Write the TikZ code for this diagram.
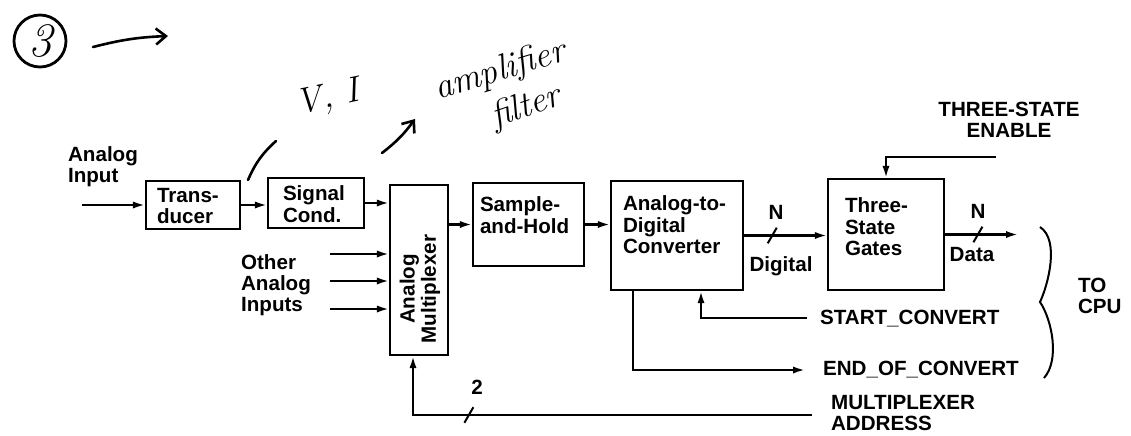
\documentclass[tikz,border=0pt]{standalone}
\usepackage{fontspec}
\setsansfont{Liberation Sans}
\usetikzlibrary{arrows.meta}
\begin{document}
\begin{tikzpicture}[x=0.5pt,y=-0.5pt,line width=1.1pt,
  >={Latex[length=6pt,width=3.6pt]},
  block/.style={draw,rectangle,inner sep=0pt},
  txt/.style={font=\sffamily\bfseries\fontsize{10.3}{10.6}\selectfont,inner sep=0pt,align=left},
  hand/.style={font=\itshape\fontsize{18}{18}\selectfont\addfontfeature{LetterSpace=6},inner sep=0pt},
  busslash/.style={draw,rectangle,rotate=60,minimum width=9pt,minimum height=0pt,inner sep=0pt,line width=1pt},
  barb/.style={-{Straight Barb[length=5pt,width=8pt]},line width=1.3pt,line cap=round}]
\useasboundingbox (0,0) rectangle (1131,435);

% blocks
\node[block,minimum width=47pt,minimum height=24pt] (trans) at (193,205) {};
\node[block,minimum width=48pt,minimum height=25pt] (sig) at (316,203) {};
\node[block,minimum width=29pt,minimum height=85pt] (mux) at (419,270) {};
\node[block,minimum width=55.5pt,minimum height=41.5pt] (sh) at (528.5,224.5) {};
\node[block,minimum width=66pt,minimum height=54.5pt] (adc) at (677,235.5) {};
\node[block,minimum width=58pt,minimum height=55.5pt] (tsg) at (886,234.5) {};

\node[txt,anchor=north west] (transT) at ([shift={(11,7)}]trans.north west) {Trans-\\ducer};
\node[txt,anchor=north west] (sigT) at ([shift={(15,8)}]sig.north west) {Signal\\Cond.};
\node[txt,rotate=90,align=center] (muxT) at (420,289) {Analog\\Multiplexer};
\node[txt,anchor=north west] (shT) at ([shift={(7,14)}]sh.north west) {Sample-\\and-Hold};
\node[txt,anchor=north west] (adcT) at ([shift={(12,15)}]adc.north west) {Analog-to-\\Digital\\Converter};
\node[txt,anchor=north west] (tsgT) at ([shift={(17,19)}]tsg.north west) {Three-\\State\\Gates};

% signal path
\coordinate (ain) at (82,205);
\draw[->] (ain) -- (trans.west);
\draw[->] (trans.east) -- (trans.east -| sig.west);
\draw[->] (sig.east) -- (sig.east -| mux.west);
\foreach \y [count=\i] in {254,281,309} {
  \coordinate (oth\i) at (330,\y);
  \draw[->] (oth\i) -- (oth\i -| mux.west);
}
\draw[->] (mux.east |- sh.west) -- (sh.west);
\draw[->] (sh.east) -- (sh.east -| adc.west);
\draw[->] (adc.east) -- node[busslash,pos=.34] (sl1) {} (adc.east -| tsg.west);
\coordinate (dout) at (1018,234.5);
\draw[->] (tsg.east) -- node[busslash,pos=.45] (sl2) {} (dout);

% control lines
\coordinate (ten) at (996,157);
\draw[->] (ten) -| (tsg.north);
\coordinate (stc) at (807,318);
\draw[->] (stc) -| ([xshift=12pt]adc.south);
\coordinate (eoc) at (805,370);
\draw[->] ([xshift=-22pt]adc.south) |- (eoc);
\coordinate (mad) at (812,415);
\draw[->] (mad) -| node[busslash,pos=.43] (sl3) {} ([xshift=-3pt]mux.south);

% labels
\node[txt,anchor=west] (ainT) at (67,167) {Analog\\Input};
\node[txt,anchor=west] (othT) at (240,285) {Other\\Analog\\Inputs};
\node[txt] (nA) at (776,212) {N};
\node[txt] (digT) at (781,266) {Digital};
\node[txt] (nB) at (978,211) {N};
\node[txt] (datT) at (972,255) {Data};
\node[txt,align=center] (tenT) at (1009,120) {THREE-STATE\\ENABLE};
\node[txt,anchor=west] (stcT) at (819,319) {START\_CONVERT};
\node[txt,anchor=west] (eocT) at (822,370) {END\_OF\_CONVERT};
\node[txt,anchor=west] (madT) at (830,413) {MULTIPLEXER\\ADDRESS};
\node[txt] (two) at (477,387) {2};
\node[txt,anchor=west] (cpuT) at (1077,296) {TO\\CPU};
\draw[line width=1pt] (1040,227) .. controls (1060,240) and (1048,285) .. (1040,302)
  .. controls (1052,320) and (1060,360) .. (1044,378);

% handwritten notes
\node[draw,circle,minimum size=26pt,inner sep=0pt,line width=1.4pt,font=\itshape\fontsize{24}{24}\selectfont] (num) at (40,41) {3};
\coordinate (a1) at (93,47);
\coordinate (a2) at (168,36);
\draw[barb] (a1) to[bend left=6] (a2);
\coordinate (vi1) at (248,180);
\coordinate (vi2) at (276,141);
\draw[line width=1.3pt,line cap=round] (vi1) to[bend left=12] (vi2);
\node[hand,rotate=12] (vi) at (328,99) {V,~I};
\coordinate (am1) at (382,153);
\coordinate (am2) at (415,119);
\draw[barb] (am1) to[bend right=8] (am2);
\node[hand,rotate=17,anchor=base west] (ampT) at (437,100) {amplifier};
\node[hand,rotate=19,anchor=base west] (filT) at (494,128) {filter};
\end{tikzpicture}
\end{document}
